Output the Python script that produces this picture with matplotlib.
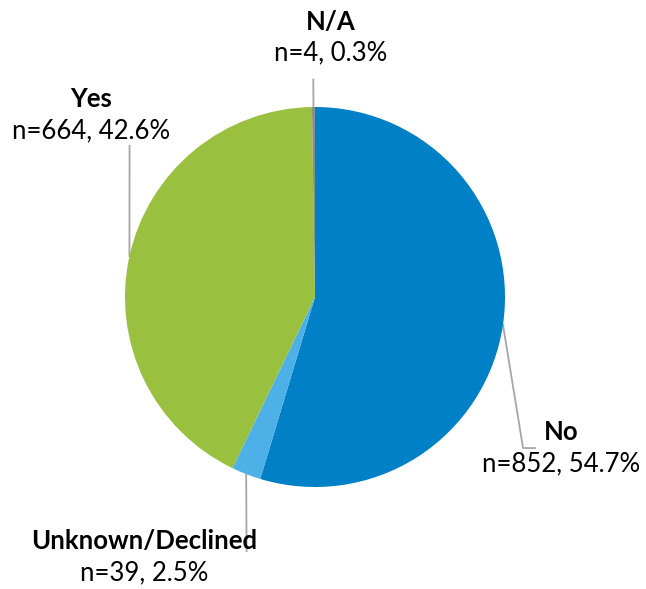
import numpy as np
import matplotlib
matplotlib.use("Agg")
from matplotlib import pyplot as plt

categories = ["No", "Unknown/Declined", "Yes", "N/A"]
counts = [852, 39, 664, 4]
colors = ["#0080C6", "#4DB1E8", "#99C13F", "#8C8C8C"]

# label centres (data units, pie radius = 1) and leader line end points
label_xy = [(1.295, -0.795), (-0.9, -1.368), (-1.179, 0.958), (0.084, 1.368)]
leader_ends = [[(1.095, -0.795), (1.158, -0.795)],
               [(-0.36, -1.337)],
               [(-0.976, 0.795)],
               [(-0.009, 1.145)]]

W, H = 646, 589
cx, cy, r = 315, 297, 190

fig = plt.figure(figsize=(W / 100, H / 100), dpi=100)
ax = fig.add_axes([0, 0, 1, 1])

total = sum(counts)
line_color = "#A6A6A6"

# leader lines first so that text sits on top
angle = 90.0
for i, c in enumerate(counts):
    span = c / total * 360
    mid = np.radians(angle - span / 2)
    angle -= span
    pts = [(np.cos(mid), np.sin(mid))] + leader_ends[i]
    xs, ys = zip(*pts)
    ax.plot(xs, ys, color=line_color, lw=1.3, zorder=1)

wedges, _ = ax.pie(counts, colors=colors, startangle=90, counterclock=False,
                   radius=1, center=(0, 0), frame=True,
                   wedgeprops=dict(linewidth=0))
for w in wedges:
    w.set_zorder(2)
ax.set_xlim(-cx / r, (W - cx) / r)
ax.set_ylim(-(H - cy) / r, cy / r)
ax.set_aspect("equal")
ax.axis("off")

font = "Lato"
for name, c, (x, y) in zip(categories, counts, label_xy):
    pct = c / total * 100
    ax.text(x, y + 0.082, name, ha="center", va="center", fontsize=18.5,
            fontweight="bold", family=font, zorder=3)
    ax.text(x, y - 0.082, f"n={c}, {pct:.1f}%", ha="center", va="center",
            fontsize=18.5, family=font, zorder=3)

fig.savefig("out.png", dpi=100)
